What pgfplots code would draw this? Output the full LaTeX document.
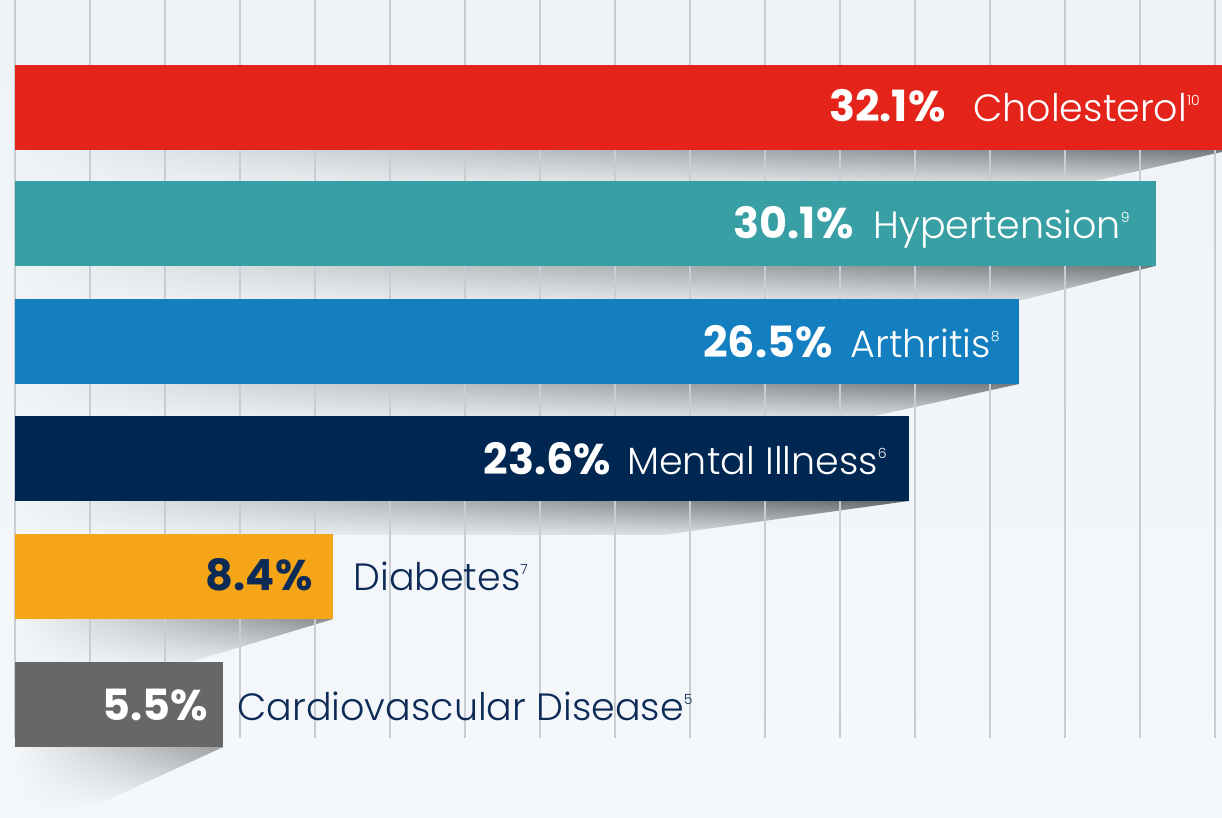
\documentclass[border=0pt]{standalone}
\usepackage{pgfplots}
\pgfplotsset{compat=1.18}
\usepackage{fontspec}
\setmainfont{Poppins}
\IfFontExistsTF{Poppins Light}{\newfontfamily\labfont{Poppins Light}}{\newfontfamily\labfont{Poppins}}
\usetikzlibrary{fadings}
\definecolor{bgtop}{HTML}{EEF3F7}
\definecolor{bgbot}{HTML}{F5F8FB}
\definecolor{gridc}{HTML}{C9CDD1}
\definecolor{cred}{HTML}{E4241A}
\definecolor{cteal}{HTML}{38A0A4}
\definecolor{cblue}{HTML}{137EC0}
\definecolor{cnavy}{HTML}{002752}
\definecolor{corange}{HTML}{F5A515}
\definecolor{cgray}{HTML}{676767}
\definecolor{tnavy}{HTML}{0E2A57}
\definecolor{shtop}{HTML}{76797C}
\definecolor{shbot}{HTML}{D4D8DB}
\pgfplotsset{
  layers/mylayers/.define layer set={axis background,shadowlayer,axis grid,axis ticks,axis lines,axis tick labels,main,axis descriptions,axis foreground}{
    grid style={/pgfplots/on layer=axis grid},
    tick style={/pgfplots/on layer=axis ticks},
    axis line style={/pgfplots/on layer=axis lines},
    label style={/pgfplots/on layer=axis descriptions},
    legend style={/pgfplots/on layer=axis foreground},
    title style={/pgfplots/on layer=axis descriptions},
    colorbar style={/pgfplots/on layer=axis descriptions},
    ticklabel style={/pgfplots/on layer=axis tick labels},
    axis background@ style={/pgfplots/on layer=axis background},
    3d box foreground style={/pgfplots/on layer=axis foreground},
  },
}
\newcommand\num[1]{{\fontsize{21.5}{22}\selectfont\bfseries #1}}
\newcommand\lab[1]{{\labfont\fontsize{19}{20}\selectfont #1}}
\newcommand\sups[1]{\raisebox{8pt}{\labfont\fontsize{7}{7}\selectfont #1}}
\begin{document}
\begin{tikzpicture}
\begin{axis}[
  at={(0,0)}, anchor=south west,
  scale only axis, width=611pt, height=409pt,
  xmin=-0.3958, xmax=31.847, ymin=0, ymax=818, y dir=reverse,
  axis lines=none, xtick=\empty, ytick=\empty,
  axis background/.style={top color=bgtop, bottom color=bgbot},
  set layers=mylayers, clip=true,
]
% shadows
\addplot[draw=none, top color=shtop, bottom color=shbot, path fading=west, on layer=shadowlayer, forget plot] coordinates {(0,150) (31.85,150) (31.85,152) (28.36,182) (0,182)};
\addplot[draw=none, top color=shtop, bottom color=shbot, path fading=west, on layer=shadowlayer, forget plot] coordinates {(0,266) (30.1,266) (26.6,300) (0,300)};
\addplot[draw=none, top color=shtop, bottom color=shbot, path fading=west, on layer=shadowlayer, forget plot] coordinates {(0,384) (26.5,384) (22.56,417) (0,417)};
\addplot[draw=none, top color=shtop!85!black, bottom color=shbot, path fading=west, on layer=shadowlayer, forget plot] coordinates {(0,501) (23.6,501) (17.1,535) (0,535)};
\addplot[draw=none, top color=shtop!80!shbot, bottom color=shbot!60!bgbot, path fading=west, on layer=shadowlayer, forget plot] coordinates {(0,619) (8.4,619) (4.54,663) (0,663)};
\addplot[draw=none, top color=shtop!60!shbot, bottom color=bgbot, path fading=west, on layer=shadowlayer, forget plot] coordinates {(0,747) (5.5,747) (1.85,810) (0,810)};
% grid
\begin{pgfonlayer}{axis grid}
\pgfplotsinvokeforeach{0,...,16}{
  \draw[gridc, line width=1pt] (axis cs:{#1*1.97889},0) -- (axis cs:{#1*1.97889},738);
}
\end{pgfonlayer}
% bars
\addplot[xbar, bar width=85, bar shift=0pt, draw=none, fill=cred] coordinates {(32.1,107.5)};
\addplot[xbar, bar width=85, bar shift=0pt, draw=none, fill=cteal] coordinates {(30.1,224)};
\addplot[xbar, bar width=85, bar shift=0pt, draw=none, fill=cblue] coordinates {(26.5,342)};
\addplot[xbar, bar width=85, bar shift=0pt, draw=none, fill=cnavy] coordinates {(23.6,459)};
\addplot[xbar, bar width=85, bar shift=0pt, draw=none, fill=corange] coordinates {(8.4,577)};
\addplot[xbar, bar width=85, bar shift=0pt, draw=none, fill=cgray] coordinates {(5.5,705)};
% labels
\node[anchor=base east, text=white, inner sep=0pt] at (axis cs:31.27,122) {\num{32.1\%}\hspace{14pt}\lab{Cholesterol}\sups{10}};
\node[anchor=base east, text=white, inner sep=0pt] at (axis cs:29.42,239) {\num{30.1\%}\hspace{10pt}\lab{Hypertension}\sups{9}};
\node[anchor=base east, text=white, inner sep=0pt] at (axis cs:25.99,358) {\num{26.5\%}\hspace{9pt}\lab{Arthritis}\sups{8}};
\node[anchor=base east, text=white, inner sep=0pt] at (axis cs:23.01,475) {\num{23.6\%}\hspace{8pt}\lab{Mental Illness}\sups{6}};
\node[anchor=base east, text=tnavy, inner sep=0pt] at (axis cs:7.86,591) {\num{8.4\%}};
\node[anchor=base west, text=tnavy, inner sep=0pt] at (axis cs:8.92,591) {\lab{Diabetes}\sups{7}};
\node[anchor=base east, text=white, inner sep=0pt] at (axis cs:5.09,721) {\num{5.5\%}};
\node[anchor=base west, text=tnavy, inner sep=0pt] at (axis cs:5.86,721) {\lab{Cardiovascular Disease}\sups{5}};
\end{axis}
\end{tikzpicture}
\end{document}
